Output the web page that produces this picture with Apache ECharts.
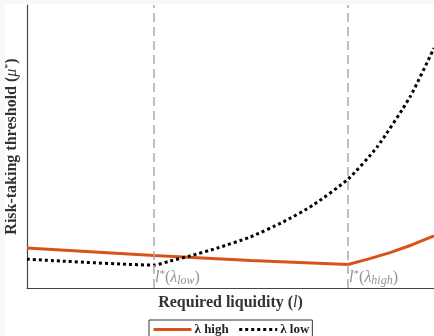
<!DOCTYPE html>
<html>
<head>
<meta charset="utf-8">
<script src="https://cdn.jsdelivr.net/npm/echarts@6/dist/echarts.min.js"></script>
<style>
html,body{margin:0;padding:0;background:#f8f8f8;}
#c{position:absolute;left:5px;top:4px;width:429px;height:332px;background:#fff;}
</style>
</head>
<body>
<div id="c"></div>
<script>
// Data (x: required liquidity, normalized 0-100; y: risk-taking threshold, arbitrary units)
const highX = [0, 31.2, 55, 78.9, 84, 89.2, 94.5, 100];
const highY = [14.1, 11.5, 9.7, 8.3, 10.3, 12.5, 15.2, 18.4];
const lowX = [0, 31.2, 35.1, 40.0, 46.7, 54.8, 62.9, 70.3, 78.9, 86.0, 94.1, 100];
const lowY = [10.2, 8.1, 9.5, 11.3, 14.1, 18.0, 23.3, 29.3, 38.5, 49.8, 67.5, 84.8];
const thresholds = [31.2, 78.9];
const thresholdLabels = ['low', 'high'];
const seriesNames = ['λ high', 'λ low'];

const serif = '"Liberation Serif", "DejaVu Serif", serif';
const pair = (xs, ys) => xs.map((x, i) => [x, ys[i]]);

const labelRich = {
  i: {fontFamily: serif, fontStyle: 'italic', fontSize: 16, color: '#777', lineHeight: 18},
  s: {fontFamily: serif, fontSize: 11, color: '#777', verticalAlign: 'top', lineHeight: 18, padding:[0,0,4,0]},
  n: {fontFamily: serif, fontSize: 16, color: '#777', lineHeight: 18},
  b: {fontFamily: serif, fontStyle: 'italic', fontSize: 12, color: '#777', verticalAlign: 'bottom', lineHeight: 18, padding:[4,0,0,0]}
};

const chart = echarts.init(document.getElementById('c'));
chart.setOption({
  animation: false,
  grid: {left: 22, right: 0, top: 1, bottom: 48, outerBoundsMode: 'none', containLabel: false},
  xAxis: {
    type: 'value', min: 0, max: 100,
    axisLine: {show: true, lineStyle: {color: '#444', width: 1.2}},
    axisTick: {show: false}, axisLabel: {show: false}, splitLine: {show: false},
    name: '{b|Required liquidity (}{i|l}{b|)}',
    nameLocation: 'middle', nameGap: 7,
    nameTextStyle: {
      rich: {
        b: {fontFamily: serif, fontWeight: 'bold', fontSize: 16, color: '#333'},
        i: {fontFamily: serif, fontStyle: 'italic', fontSize: 16, color: '#333'}
      }
    }
  },
  yAxis: {
    type: 'value', min: 0, max: 100,
    axisLine: {show: true, lineStyle: {color: '#444', width: 1.2}},
    axisTick: {show: false}, axisLabel: {show: false}, splitLine: {show: false},
    name: '{b|Risk-taking threshold (}{i|μ}{s|*}{b|)}',
    nameLocation: 'middle', nameGap: 6,
    nameTextStyle: {
      rich: {
        b: {fontFamily: serif, fontWeight: 'bold', fontSize: 16, color: '#333', lineHeight: 18},
        i: {fontFamily: serif, fontStyle: 'italic', fontSize: 16, color: '#333', lineHeight: 18},
        s: {fontFamily: serif, fontSize: 10, color: '#333', verticalAlign: 'top', lineHeight: 18}
      }
    }
  },
  legend: {
    data: seriesNames,
    left: 144, top: 316,
    borderColor: '#333', borderWidth: 1, borderRadius: 0,
    padding: [3, 3, 10, 3],
    itemWidth: 38, itemHeight: 10, itemGap: 9,
    itemStyle: {opacity: 0},
    lineStyle: {width: 3},
    textStyle: {fontFamily: serif, fontWeight: 'bold', fontSize: 13, color: '#222', padding: [0,0,0,-2]}
  },
  series: [
    {
      name: seriesNames[0], type: 'line', data: pair(highX, highY),
      showSymbol: false, symbol: 'none',
      lineStyle: {color: '#d95319', width: 3},
      itemStyle: {color: '#d95319'},
      z: 3
    },
    {
      name: seriesNames[1], type: 'line', data: pair(lowX, lowY),
      showSymbol: false, symbol: 'none', smooth: 0.2,
      lineStyle: {color: '#000', width: 3, type: [3, 3], cap: 'butt'},
      itemStyle: {color: '#000'},
      z: 4
    },
    {
      name: 'thresholds', type: 'scatter',
      data: thresholds.map((t, i) => ({
        value: [t, 3.5],
        label: {formatter: '{i|l}{s|*}{n|(}{i|λ}{b|' + thresholdLabels[i] + '}{n|)}'}
      })),
      symbolSize: 0,
      label: {show: true, position: 'right', distance: 1, rich: labelRich},
      markLine: {
        silent: true, symbol: 'none',
        lineStyle: {color: '#aaa', width: 1.5, type: [9, 5]},
        label: {show: false},
        data: thresholds.map(t => ({xAxis: t}))
      },
      z: 2
    }
  ]
});
</script>
</body>
</html>
